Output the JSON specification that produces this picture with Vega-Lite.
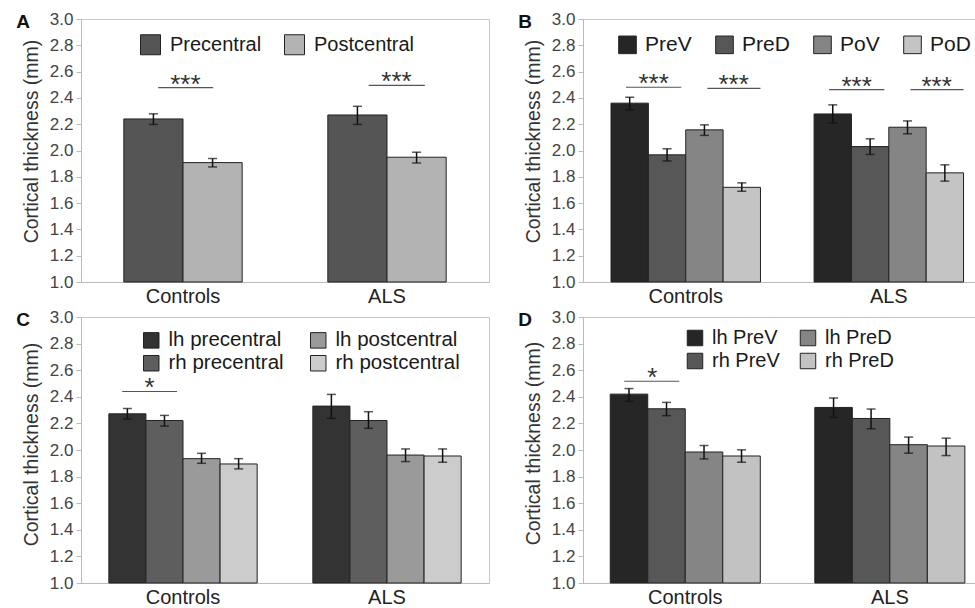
{
  "$schema": "https://vega.github.io/schema/vega-lite/v6.json",
  "padding": {"left": 15, "top": 9, "right": 0, "bottom": 0},
  "columns": 2,
  "align": "each",
  "spacing": {"row": 0, "column": 27},
  "resolve": {"scale": {"color": "independent", "xOffset": "independent", "x": "independent", "y": "independent"}, "legend": {"color": "independent"}, "axis": {"x": "independent", "y": "independent"}},
  "config": {
    "font": "Liberation Sans",
    "view": {"stroke": "#c8c8c8", "strokeWidth": 1},
    "axisY": {"domainColor": "#bbbbbb", "tickColor": "#bbbbbb", "tickSize": 5, "tickCount": 10, "labelPadding": 3, "labelFontSize": 17, "labelColor": "#444444", "labelOverlap": false, "titleFontSize": 19.5, "titleFontWeight": "normal", "titleColor": "#333333", "titlePadding": 8, "grid": false},
    "axisX": {"domainColor": "#bbbbbb", "ticks": false, "tickSize": 0, "labelPadding": 4, "labelFontSize": 20, "labelColor": "#222222", "labelAngle": 0, "grid": false},
    "legend": {"orient": "none", "title": null, "padding": 0, "symbolType": "square", "symbolStrokeColor": "#222222", "symbolStrokeWidth": 1, "labelColor": "#1a1a1a", "labelFont": "Liberation Sans"},
    "title": {"anchor": "start", "frame": "bounds", "fontSize": 19, "fontWeight": "bold", "color": "#111111", "offset": -22, "dx": -5}
  },
  "datasets": {
    "a": [
      {"group": "Controls", "region": "Precentral", "mean": 2.24, "lo": 2.198, "hi": 2.279},
      {"group": "Controls", "region": "Postcentral", "mean": 1.908, "lo": 1.875, "hi": 1.939},
      {"group": "ALS", "region": "Precentral", "mean": 2.27, "lo": 2.198, "hi": 2.336},
      {"group": "ALS", "region": "Postcentral", "mean": 1.949, "lo": 1.905, "hi": 1.987}
    ],
    "a_sig": [
      {"group": "Controls", "y": 2.478, "label": "***"},
      {"group": "ALS", "y": 2.496, "label": "***"}
    ],
    "b": [
      {"group": "Controls", "region": "PreV", "mean": 2.36, "lo": 2.31, "hi": 2.405},
      {"group": "Controls", "region": "PreD", "mean": 1.967, "lo": 1.92, "hi": 2.013},
      {"group": "Controls", "region": "PoV", "mean": 2.157, "lo": 2.115, "hi": 2.195},
      {"group": "Controls", "region": "PoD", "mean": 1.72, "lo": 1.69, "hi": 1.754},
      {"group": "ALS", "region": "PreV", "mean": 2.278, "lo": 2.21, "hi": 2.347},
      {"group": "ALS", "region": "PreD", "mean": 2.03, "lo": 1.97, "hi": 2.089},
      {"group": "ALS", "region": "PoV", "mean": 2.177, "lo": 2.127, "hi": 2.225},
      {"group": "ALS", "region": "PoD", "mean": 1.83, "lo": 1.767, "hi": 1.891}
    ],
    "b_sig": [
      {"group": "Controls", "pair": 1, "y": 2.481, "label": "***"},
      {"group": "Controls", "pair": 2, "y": 2.473, "label": "***"},
      {"group": "ALS", "pair": 1, "y": 2.463, "label": "***"},
      {"group": "ALS", "pair": 2, "y": 2.463, "label": "***"}
    ],
    "c": [
      {"group": "Controls", "region": "lh precentral", "mean": 2.272, "lo": 2.233, "hi": 2.312},
      {"group": "Controls", "region": "rh precentral", "mean": 2.222, "lo": 2.18, "hi": 2.26},
      {"group": "Controls", "region": "lh postcentral", "mean": 1.935, "lo": 1.9, "hi": 1.975},
      {"group": "Controls", "region": "rh postcentral", "mean": 1.895, "lo": 1.858, "hi": 1.935},
      {"group": "ALS", "region": "lh precentral", "mean": 2.33, "lo": 2.238, "hi": 2.418},
      {"group": "ALS", "region": "rh precentral", "mean": 2.222, "lo": 2.163, "hi": 2.288},
      {"group": "ALS", "region": "lh postcentral", "mean": 1.962, "lo": 1.913, "hi": 2.008},
      {"group": "ALS", "region": "rh postcentral", "mean": 1.955, "lo": 1.908, "hi": 2.008}
    ],
    "c_sig": [
      {"group": "Controls", "y": 2.44, "label": "*"}
    ],
    "d": [
      {"group": "Controls", "region": "lh PreV", "mean": 2.42, "lo": 2.366, "hi": 2.462},
      {"group": "Controls", "region": "rh PreV", "mean": 2.31, "lo": 2.258, "hi": 2.358},
      {"group": "Controls", "region": "lh PreD", "mean": 1.985, "lo": 1.933, "hi": 2.034},
      {"group": "Controls", "region": "rh PreD", "mean": 1.955, "lo": 1.908, "hi": 2.001},
      {"group": "ALS", "region": "lh PreV", "mean": 2.32, "lo": 2.245, "hi": 2.391},
      {"group": "ALS", "region": "rh PreV", "mean": 2.237, "lo": 2.16, "hi": 2.308},
      {"group": "ALS", "region": "lh PreD", "mean": 2.04, "lo": 1.976, "hi": 2.097},
      {"group": "ALS", "region": "rh PreD", "mean": 2.03, "lo": 1.958, "hi": 2.089}
    ],
    "d_sig": [
      {"group": "Controls", "y": 2.517, "label": "*"}
    ]
  },
  "concat": [
    {
      "title": {"text": "A"},
      "width": 408,
      "height": 263,
      "encoding": {
        "y": {"type": "quantitative", "scale": {"domain": [1, 3], "nice": false, "zero": false}, "axis": {"format": ".1f", "titleY": 122}, "title": "Cortical thickness (mm)"}
      },
      "layer": [
        {
          "data": {"name": "a"},
          "mark": {"type": "bar", "stroke": "#222222", "strokeWidth": 1},
          "encoding": {
            "x": {"field": "group", "type": "nominal", "sort": ["Controls", "ALS"], "scale": {"paddingInner": 0.42, "paddingOuter": 0.21}, "axis": {"title": null}},
            "xOffset": {"field": "region", "type": "nominal", "sort": ["Precentral", "Postcentral"], "scale": {"paddingInner": 0, "paddingOuter": 0}},
            "y": {"field": "mean"},
            "y2": {"datum": 1},
            "color": {"field": "region", "type": "nominal", "scale": {"domain": ["Precentral", "Postcentral"], "range": ["#555555", "#b3b3b3"]}, "legend": {"legendX": 59, "legendY": 15, "direction": "horizontal", "columns": 2, "columnPadding": 20, "labelOffset": 9, "symbolSize": 400, "labelFontSize": 20}}
          }
        },
        {
          "data": {"name": "a"},
          "mark": {"type": "rule", "color": "#111111", "strokeWidth": 1.5},
          "encoding": {
            "x": {"field": "group", "type": "nominal", "sort": ["Controls", "ALS"]},
            "xOffset": {"field": "region", "type": "nominal", "sort": ["Precentral", "Postcentral"]},
            "y": {"field": "lo"},
            "y2": {"field": "hi"}
          }
        },
        {
          "data": {"name": "a"},
          "mark": {"type": "tick", "color": "#111111", "thickness": 1.5, "size": 9, "orient": "horizontal"},
          "encoding": {
            "x": {"field": "group", "type": "nominal", "sort": ["Controls", "ALS"]},
            "xOffset": {"field": "region", "type": "nominal", "sort": ["Precentral", "Postcentral"]},
            "y": {"field": "lo"}
          }
        },
        {
          "data": {"name": "a"},
          "mark": {"type": "tick", "color": "#111111", "thickness": 1.5, "size": 9, "orient": "horizontal"},
          "encoding": {
            "x": {"field": "group", "type": "nominal", "sort": ["Controls", "ALS"]},
            "xOffset": {"field": "region", "type": "nominal", "sort": ["Precentral", "Postcentral"]},
            "y": {"field": "hi"}
          }
        },
        {
          "data": {"name": "a_sig"},
          "transform": [{"filter": "datum.group == 'Controls'"}],
          "mark": {"type": "rule", "color": "#555555", "strokeWidth": 1.2},
          "encoding": {
            "x": {"field": "group", "type": "nominal", "sort": ["Controls", "ALS"], "bandPosition": 0.29},
            "x2": {"field": "group", "bandPosition": 0.755},
            "y": {"field": "y"}
          }
        },
        {
          "data": {"name": "a_sig"},
          "transform": [{"filter": "datum.group == 'ALS'"}],
          "mark": {"type": "rule", "color": "#555555", "strokeWidth": 1.2},
          "encoding": {
            "x": {"field": "group", "type": "nominal", "sort": ["Controls", "ALS"], "bandPosition": 0.345},
            "x2": {"field": "group", "bandPosition": 0.82},
            "y": {"field": "y"}
          }
        },
        {
          "data": {"name": "a_sig"},
          "transform": [{"filter": "datum.group == 'Controls'"}],
          "mark": {"type": "text", "fontSize": 26, "baseline": "alphabetic", "dy": 5, "color": "#333333"},
          "encoding": {
            "x": {"field": "group", "type": "nominal", "sort": ["Controls", "ALS"], "bandPosition": 0.52},
            "y": {"field": "y"},
            "text": {"field": "label"}
          }
        },
        {
          "data": {"name": "a_sig"},
          "transform": [{"filter": "datum.group == 'ALS'"}],
          "mark": {"type": "text", "fontSize": 26, "baseline": "alphabetic", "dy": 5, "color": "#333333"},
          "encoding": {
            "x": {"field": "group", "type": "nominal", "sort": ["Controls", "ALS"], "bandPosition": 0.58},
            "y": {"field": "y"},
            "text": {"field": "label"}
          }
        }
      ]
    },
    {
      "title": {"text": "B"},
      "width": 398,
      "height": 263,
      "encoding": {
        "y": {"type": "quantitative", "scale": {"domain": [1, 3], "nice": false, "zero": false}, "axis": {"format": ".1f", "titleY": 122}, "title": "Cortical thickness (mm)"}
      },
      "layer": [
        {
          "data": {"name": "b"},
          "mark": {"type": "bar", "stroke": "#222222", "strokeWidth": 1},
          "encoding": {
            "x": {"field": "group", "type": "nominal", "sort": ["Controls", "ALS"], "scale": {"paddingInner": 0.264, "paddingOuter": 0.112, "align": 0.616}, "axis": {"title": null}},
            "xOffset": {"field": "region", "type": "nominal", "sort": ["PreV", "PreD", "PoV", "PoD"], "scale": {"paddingInner": 0, "paddingOuter": 0}},
            "y": {"field": "mean"},
            "y2": {"datum": 1},
            "color": {"field": "region", "type": "nominal", "scale": {"domain": ["PreV", "PreD", "PoV", "PoD"], "range": ["#262626", "#575757", "#858585", "#c4c4c4"]}, "legend": {"legendX": 34, "legendY": 15, "direction": "horizontal", "columns": 4, "columnPadding": 21, "labelOffset": 7, "symbolSize": 310, "labelFontSize": 21}}
          }
        },
        {
          "data": {"name": "b"},
          "mark": {"type": "rule", "color": "#111111", "strokeWidth": 1.5},
          "encoding": {
            "x": {"field": "group", "type": "nominal", "sort": ["Controls", "ALS"]},
            "xOffset": {"field": "region", "type": "nominal", "sort": ["PreV", "PreD", "PoV", "PoD"]},
            "y": {"field": "lo"},
            "y2": {"field": "hi"}
          }
        },
        {
          "data": {"name": "b"},
          "mark": {"type": "tick", "color": "#111111", "thickness": 1.5, "size": 9, "orient": "horizontal"},
          "encoding": {
            "x": {"field": "group", "type": "nominal", "sort": ["Controls", "ALS"]},
            "xOffset": {"field": "region", "type": "nominal", "sort": ["PreV", "PreD", "PoV", "PoD"]},
            "y": {"field": "lo"}
          }
        },
        {
          "data": {"name": "b"},
          "mark": {"type": "tick", "color": "#111111", "thickness": 1.5, "size": 9, "orient": "horizontal"},
          "encoding": {
            "x": {"field": "group", "type": "nominal", "sort": ["Controls", "ALS"]},
            "xOffset": {"field": "region", "type": "nominal", "sort": ["PreV", "PreD", "PoV", "PoD"]},
            "y": {"field": "hi"}
          }
        },
        {
          "data": {"name": "b_sig"},
          "transform": [{"filter": "datum.pair == 1"}],
          "mark": {"type": "rule", "color": "#555555", "strokeWidth": 1.2},
          "encoding": {
            "x": {"field": "group", "type": "nominal", "sort": ["Controls", "ALS"], "bandPosition": 0.1},
            "x2": {"field": "group", "bandPosition": 0.47},
            "y": {"field": "y"}
          }
        },
        {
          "data": {"name": "b_sig"},
          "transform": [{"filter": "datum.pair == 2"}],
          "mark": {"type": "rule", "color": "#555555", "strokeWidth": 1.2},
          "encoding": {
            "x": {"field": "group", "type": "nominal", "sort": ["Controls", "ALS"], "bandPosition": 0.645},
            "x2": {"field": "group", "bandPosition": 1.0},
            "y": {"field": "y"}
          }
        },
        {
          "data": {"name": "b_sig"},
          "transform": [{"filter": "datum.pair == 1"}],
          "mark": {"type": "text", "fontSize": 26, "baseline": "alphabetic", "dy": 5, "color": "#333333"},
          "encoding": {
            "x": {"field": "group", "type": "nominal", "sort": ["Controls", "ALS"], "bandPosition": 0.285},
            "y": {"field": "y"},
            "text": {"field": "label"}
          }
        },
        {
          "data": {"name": "b_sig"},
          "transform": [{"filter": "datum.pair == 2"}],
          "mark": {"type": "text", "fontSize": 26, "baseline": "alphabetic", "dy": 5, "color": "#333333"},
          "encoding": {
            "x": {"field": "group", "type": "nominal", "sort": ["Controls", "ALS"], "bandPosition": 0.82},
            "y": {"field": "y"},
            "text": {"field": "label"}
          }
        }
      ]
    },
    {
      "title": {"text": "C"},
      "width": 408,
      "height": 266,
      "encoding": {
        "y": {"type": "quantitative", "scale": {"domain": [1, 3], "nice": false, "zero": false}, "axis": {"format": ".1f", "titleY": 127}, "title": "Cortical thickness (mm)"}
      },
      "layer": [
        {
          "data": {"name": "c"},
          "mark": {"type": "bar", "stroke": "#222222", "strokeWidth": 1},
          "encoding": {
            "x": {"field": "group", "type": "nominal", "sort": ["Controls", "ALS"], "scale": {"paddingInner": 0.273, "paddingOuter": 0.1365}, "axis": {"title": null}},
            "xOffset": {"field": "region", "type": "nominal", "sort": ["lh precentral", "rh precentral", "lh postcentral", "rh postcentral"], "scale": {"paddingInner": 0, "paddingOuter": 0}},
            "y": {"field": "mean"},
            "y2": {"datum": 1},
            "color": {"field": "region", "type": "nominal", "scale": {"domain": ["lh precentral", "lh postcentral", "rh precentral", "rh postcentral"], "range": ["#333333", "#9a9a9a", "#5e5e5e", "#cccccc"]}, "legend": {"legendX": 60, "legendY": 13, "direction": "horizontal", "columns": 2, "columnPadding": 24, "rowPadding": 2, "labelOffset": 7, "symbolSize": 240, "labelFontSize": 20.5}}
          }
        },
        {
          "data": {"name": "c"},
          "mark": {"type": "rule", "color": "#111111", "strokeWidth": 1.5},
          "encoding": {
            "x": {"field": "group", "type": "nominal", "sort": ["Controls", "ALS"]},
            "xOffset": {"field": "region", "type": "nominal", "sort": ["lh precentral", "rh precentral", "lh postcentral", "rh postcentral"]},
            "y": {"field": "lo"},
            "y2": {"field": "hi"}
          }
        },
        {
          "data": {"name": "c"},
          "mark": {"type": "tick", "color": "#111111", "thickness": 1.5, "size": 9, "orient": "horizontal"},
          "encoding": {
            "x": {"field": "group", "type": "nominal", "sort": ["Controls", "ALS"]},
            "xOffset": {"field": "region", "type": "nominal", "sort": ["lh precentral", "rh precentral", "lh postcentral", "rh postcentral"]},
            "y": {"field": "lo"}
          }
        },
        {
          "data": {"name": "c"},
          "mark": {"type": "tick", "color": "#111111", "thickness": 1.5, "size": 9, "orient": "horizontal"},
          "encoding": {
            "x": {"field": "group", "type": "nominal", "sort": ["Controls", "ALS"]},
            "xOffset": {"field": "region", "type": "nominal", "sort": ["lh precentral", "rh precentral", "lh postcentral", "rh postcentral"]},
            "y": {"field": "hi"}
          }
        },
        {
          "data": {"name": "c_sig"},
          "mark": {"type": "rule", "color": "#555555", "strokeWidth": 1.2},
          "encoding": {
            "x": {"field": "group", "type": "nominal", "sort": ["Controls", "ALS"], "bandPosition": 0.09},
            "x2": {"field": "group", "bandPosition": 0.46},
            "y": {"field": "y"}
          }
        },
        {
          "data": {"name": "c_sig"},
          "mark": {"type": "text", "fontSize": 26, "baseline": "alphabetic", "dy": 5, "color": "#333333"},
          "encoding": {
            "x": {"field": "group", "type": "nominal", "sort": ["Controls", "ALS"], "bandPosition": 0.275},
            "y": {"field": "y"},
            "text": {"field": "label"}
          }
        }
      ]
    },
    {
      "title": {"text": "D"},
      "width": 398,
      "height": 266,
      "encoding": {
        "y": {"type": "quantitative", "scale": {"domain": [1, 3], "nice": false, "zero": false}, "axis": {"format": ".1f", "titleY": 126}, "title": "Cortical thickness (mm)"}
      },
      "layer": [
        {
          "data": {"name": "d"},
          "mark": {"type": "bar", "stroke": "#222222", "strokeWidth": 1},
          "encoding": {
            "x": {"field": "group", "type": "nominal", "sort": ["Controls", "ALS"], "scale": {"paddingInner": 0.2665, "paddingOuter": 0.106, "align": 0.628}, "axis": {"title": null}},
            "xOffset": {"field": "region", "type": "nominal", "sort": ["lh PreV", "rh PreV", "lh PreD", "rh PreD"], "scale": {"paddingInner": 0, "paddingOuter": 0}},
            "y": {"field": "mean"},
            "y2": {"datum": 1},
            "color": {"field": "region", "type": "nominal", "scale": {"domain": ["lh PreV", "lh PreD", "rh PreV", "rh PreD"], "range": ["#262626", "#858585", "#575757", "#c2c2c2"]}, "legend": {"legendX": 102, "legendY": 11, "direction": "horizontal", "columns": 2, "columnPadding": 18, "rowPadding": 3, "labelOffset": 7, "symbolSize": 240, "labelFontSize": 20}}
          }
        },
        {
          "data": {"name": "d"},
          "mark": {"type": "rule", "color": "#111111", "strokeWidth": 1.5},
          "encoding": {
            "x": {"field": "group", "type": "nominal", "sort": ["Controls", "ALS"]},
            "xOffset": {"field": "region", "type": "nominal", "sort": ["lh PreV", "rh PreV", "lh PreD", "rh PreD"]},
            "y": {"field": "lo"},
            "y2": {"field": "hi"}
          }
        },
        {
          "data": {"name": "d"},
          "mark": {"type": "tick", "color": "#111111", "thickness": 1.5, "size": 9, "orient": "horizontal"},
          "encoding": {
            "x": {"field": "group", "type": "nominal", "sort": ["Controls", "ALS"]},
            "xOffset": {"field": "region", "type": "nominal", "sort": ["lh PreV", "rh PreV", "lh PreD", "rh PreD"]},
            "y": {"field": "lo"}
          }
        },
        {
          "data": {"name": "d"},
          "mark": {"type": "tick", "color": "#111111", "thickness": 1.5, "size": 9, "orient": "horizontal"},
          "encoding": {
            "x": {"field": "group", "type": "nominal", "sort": ["Controls", "ALS"]},
            "xOffset": {"field": "region", "type": "nominal", "sort": ["lh PreV", "rh PreV", "lh PreD", "rh PreD"]},
            "y": {"field": "hi"}
          }
        },
        {
          "data": {"name": "d_sig"},
          "mark": {"type": "rule", "color": "#555555", "strokeWidth": 1.2},
          "encoding": {
            "x": {"field": "group", "type": "nominal", "sort": ["Controls", "ALS"], "bandPosition": 0.093},
            "x2": {"field": "group", "bandPosition": 0.46},
            "y": {"field": "y"}
          }
        },
        {
          "data": {"name": "d_sig"},
          "mark": {"type": "text", "fontSize": 26, "baseline": "alphabetic", "dy": 5, "color": "#333333"},
          "encoding": {
            "x": {"field": "group", "type": "nominal", "sort": ["Controls", "ALS"], "bandPosition": 0.28},
            "y": {"field": "y"},
            "text": {"field": "label"}
          }
        }
      ]
    }
  ]
}
